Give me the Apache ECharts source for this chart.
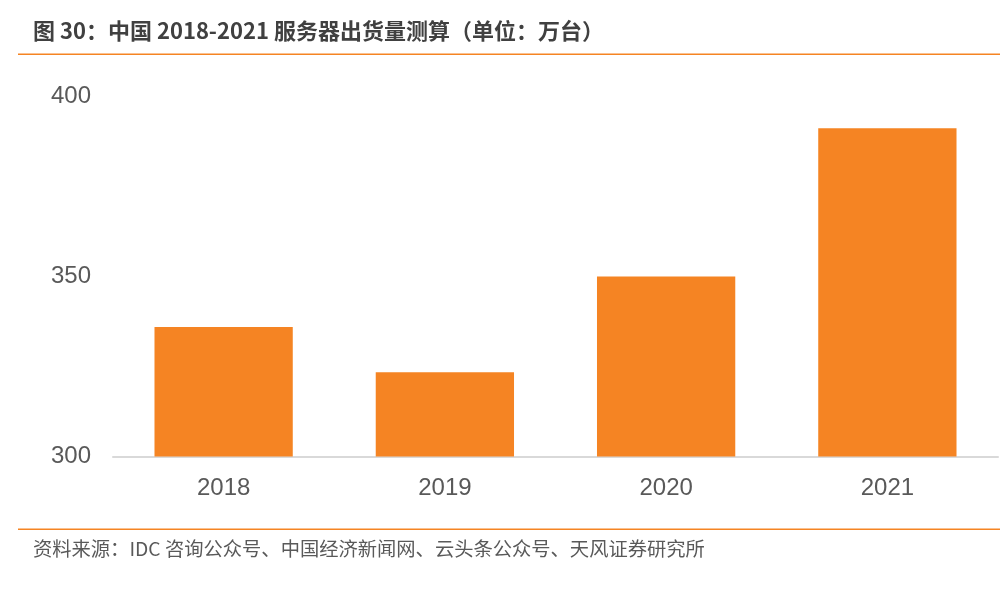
<!DOCTYPE html>
<html>
<head>
<meta charset="utf-8">
<script src="https://cdn.jsdelivr.net/npm/echarts@6/dist/echarts.min.js"></script>
<style>
html,body{margin:0;padding:0;background:#fff;}
#c{width:1000px;height:591px;}
</style>
</head>
<body>
<div id="c"></div>
<script>
const titleText = '图 30：中国 2018-2021 服务器出货量测算（单位：万台）';
const sourceText = '资料来源：IDC 咨询公众号、中国经济新闻网、云头条公众号、天风证券研究所';
const categories = ['2018', '2019', '2020', '2021'];
const shipments = [336, 323.4, 350, 391.2];
const yTicks = [300, 350, 400];

const chart = echarts.init(document.getElementById('c'), null, {renderer: 'canvas'});
const orange = '#F58423';
chart.setOption({
  animation: false,
  backgroundColor: '#fff',
  grid: {left: 113, right: 2, top: 96.5, bottom: 134.5},
  xAxis: {
    type: 'category',
    data: categories,
    axisLine: {lineStyle: {color: '#d9d9d9', width: 2}},
    axisTick: {show: false},
    axisLabel: {color: '#595959', fontSize: 24, fontFamily: 'Liberation Sans, Arial, sans-serif', margin: 20}
  },
  yAxis: {
    type: 'value',
    min: yTicks[0],
    max: yTicks[yTicks.length - 1],
    interval: yTicks[1] - yTicks[0],
    axisLine: {show: false},
    axisTick: {show: false},
    splitLine: {show: false},
    axisLabel: {color: '#595959', fontSize: 24, fontFamily: 'Liberation Sans, Arial, sans-serif', margin: 22, padding: [3, 0, 0, 0]}
  },
  series: [{
    type: 'bar',
    data: shipments,
    barCategoryGap: '37.5%',
    itemStyle: {color: orange}
  }],
  graphic: [
    {type: 'text', left: 33, top: 20, style: {text: titleText, fill: '#404040', font: 'bold 22px "Noto Sans CJK SC", sans-serif'}},
    {type: 'rect', shape: {x: 18, y: 53.5, width: 982, height: 1.5}, style: {fill: orange}},
    {type: 'rect', shape: {x: 18, y: 528.5, width: 982, height: 1.5}, style: {fill: orange}},
    {type: 'text', left: 33, top: 539, style: {text: sourceText, fill: '#595959', font: '19.3px "Noto Sans CJK SC", sans-serif'}}
  ]
});
</script>
</body>
</html>
